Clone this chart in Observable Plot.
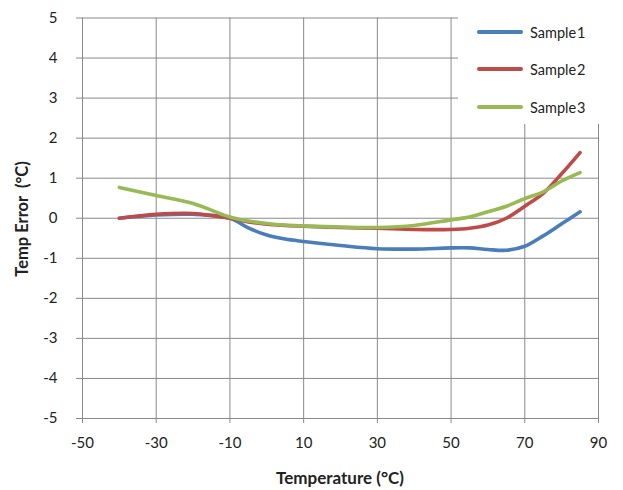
<!DOCTYPE html>
<html>
<head>
<meta charset="utf-8">
<script src="https://cdn.jsdelivr.net/npm/d3@7"></script>
<script src="https://cdn.jsdelivr.net/npm/@observablehq/plot@0.6"></script>
<style>
  html, body { margin: 0; padding: 0; background: #fff; }
  #wrap { position: relative; width: 623px; height: 490px; font-family: Lato, "Open Sans", sans-serif; }
  #legend { position: absolute; left: 458px; top: 0px; width: 160px; height: 124px; background: #fff; }
  #legend .row { position: absolute; left: 0; height: 20px; display: flex; align-items: center; }
  #legend .sw { width: 46px; height: 4px; margin-left: 19px; border-radius: 2px; }
  #legend .lb { margin-left: 7px; font-size: 14.5px; color: #222; }
</style>
</head>
<body>
<div id="wrap"></div>
<script>
const temps   = [-40, -30, -20, -10, -5, 0, 5, 10, 20, 30, 40, 50, 55, 60, 65, 70, 75, 80, 85];
const sample1 = [0.0, 0.08, 0.1, 0.0, -0.24, -0.42, -0.52, -0.58, -0.68, -0.76, -0.77, -0.74, -0.74, -0.78, -0.8, -0.7, -0.44, -0.14, 0.16];
const sample2 = [0.0, 0.1, 0.12, 0.0, -0.09, -0.15, -0.18, -0.2, -0.23, -0.25, -0.28, -0.28, -0.25, -0.17, 0.0, 0.3, 0.62, 1.11, 1.64];
const sample3 = [0.77, 0.57, 0.37, 0.03, -0.07, -0.13, -0.17, -0.19, -0.22, -0.23, -0.18, -0.04, 0.03, 0.16, 0.3, 0.49, 0.66, 0.93, 1.14];
const seriesNames = ["Sample 1", "Sample 2", "Sample 3"];
const seriesColors = ["#4A7EBB", "#BE4B48", "#98B954"];
const xTicks = [-50, -30, -10, 10, 30, 50, 70, 90];
const yTicks = [-5, -4, -3, -2, -1, 0, 1, 2, 3, 4, 5];

const allSeries = [sample1, sample2, sample3];
const rows = [];
allSeries.forEach((vals, i) => temps.forEach((t, j) => rows.push({ series: seriesNames[i], t, v: vals[j] })));

const gridColor = "#8a8a8a";
const plot = Plot.plot({
  width: 623,
  height: 490,
  marginLeft: 82,
  marginRight: 25,
  marginTop: 17.5,
  marginBottom: 72,
  style: { fontFamily: "Lato, 'Open Sans', sans-serif", fontSize: "15px", color: "#222", background: "#fff" },
  x: { domain: [-50, 90] },
  y: { domain: [-5, 5] },
  color: { domain: seriesNames, range: seriesColors },
  marks: [
    Plot.ruleX(xTicks, { stroke: gridColor, strokeOpacity: 1, strokeWidth: 1 }),
    Plot.ruleY(yTicks, { stroke: gridColor, strokeOpacity: 1, strokeWidth: 1 }),
    Plot.axisX({ ticks: xTicks, tickSize: 5, tickPadding: 14, stroke: gridColor, strokeOpacity: 1, label: null, fontSize: 15, tickFormat: d => String(d) }),
    Plot.axisY({ ticks: yTicks, tickSize: 6, tickPadding: 19, stroke: gridColor, strokeOpacity: 1, label: null, fontSize: 15, tickFormat: d => String(d) }),
    Plot.line(rows, { x: "t", y: "v", z: "series", stroke: "series", strokeWidth: 3.6, curve: "catmull-rom" })
  ]
});

const wrap = document.getElementById("wrap");
wrap.appendChild(plot);

const svg = d3.select(plot);
svg.append("text")
  .attr("x", 340).attr("y", 484)
  .attr("text-anchor", "middle")
  .attr("font-weight", "bold").attr("font-size", 17).attr("fill", "#222")
  .text("Temperature (°C)");
svg.append("text")
  .attr("transform", "translate(28,219) rotate(-90)")
  .attr("text-anchor", "middle")
  .attr("font-weight", "bold").attr("font-size", 16.5).attr("fill", "#222")
  .attr("xml:space", "preserve")
  .text("Temp Error  (°C)");

const legend = document.createElement("div");
legend.id = "legend";
const legendTops = [22, 59, 97];
seriesNames.forEach((name, i) => {
  const row = document.createElement("div");
  row.className = "row";
  row.style.top = legendTops[i] + "px";
  const sw = document.createElement("div");
  sw.className = "sw";
  sw.style.background = seriesColors[i];
  const lb = document.createElement("span");
  lb.className = "lb";
  lb.textContent = name.replace(" ", "\u200A");
  row.appendChild(sw); row.appendChild(lb);
  legend.appendChild(row);
});
wrap.appendChild(legend);
</script>
</body>
</html>
